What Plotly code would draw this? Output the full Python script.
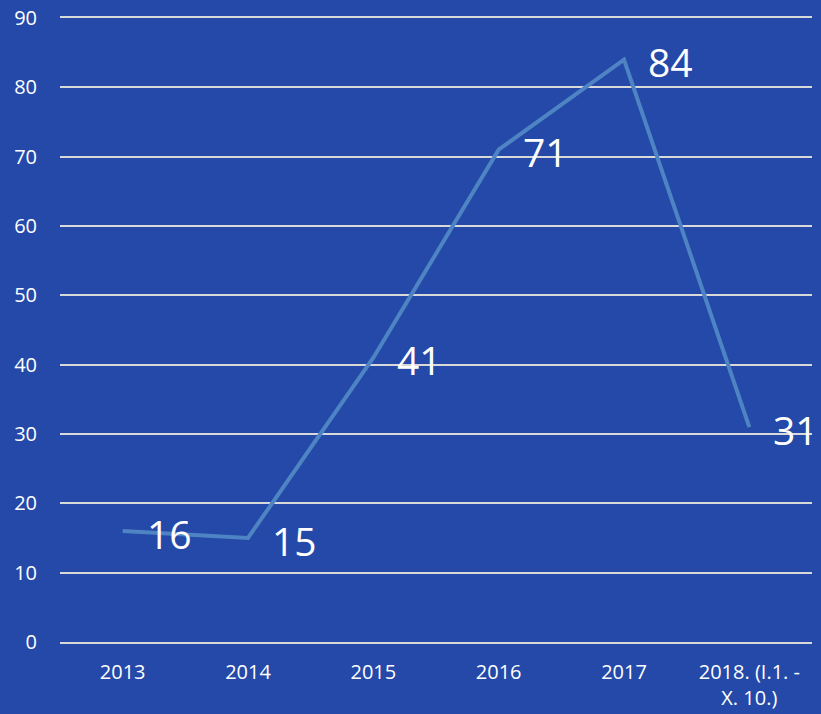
import plotly.graph_objects as go

categories = ["2013", "2014", "2015", "2016", "2017", "2018. (I.1. -<br>X. 10.)"]
values = [16, 15, 41, 71, 84, 31]
y_ticks = [0, 10, 20, 30, 40, 50, 60, 70, 80, 90]

bg = "#2449A8"
line_color = "#4F84C4"
grid_color = "#D9D9D9"

xs = list(range(len(categories)))

fig = go.Figure()
fig.add_trace(go.Scatter(
    x=xs, y=values, mode="lines",
    line=dict(color=line_color, width=4),
    hoverinfo="skip",
))
for i, v in zip(xs, values):
    fig.add_annotation(
        x=i, y=v, text=str(v), showarrow=False,
        xanchor="left", yanchor="middle", xshift=22, yshift=-2,
        font=dict(family="Open Sans", size=39, color="white"),
    )

fig.update_layout(
    width=821, height=714,
    paper_bgcolor=bg, plot_bgcolor=bg,
    margin=dict(l=60, r=9, t=18, b=72),
    showlegend=False,
    font=dict(family="Open Sans", size=20, color="white"),
)
fig.update_xaxes(
    range=[-0.5, len(categories) - 0.5], tickvals=xs, ticktext=categories,
    showgrid=False, zeroline=False,
    showline=True, mirror=True, linecolor=grid_color, linewidth=1.5,
    tickfont=dict(family="Open Sans", size=20, color="white"),
    ticks="", ticklabelstandoff=11, automargin=False,
)
fig.update_yaxes(
    range=[0, 90], tickvals=y_ticks, showgrid=True, gridcolor=grid_color,
    gridwidth=1.5, zeroline=False, showline=False,
    tickfont=dict(family="Open Sans", size=20, color="white"),
    ticks="", ticklabelstandoff=22, automargin=False,
)

fig.write_html("out.html", config={"displayModeBar": False},
               post_script="document.body.style.margin='0';document.body.style.overflow='hidden';")
